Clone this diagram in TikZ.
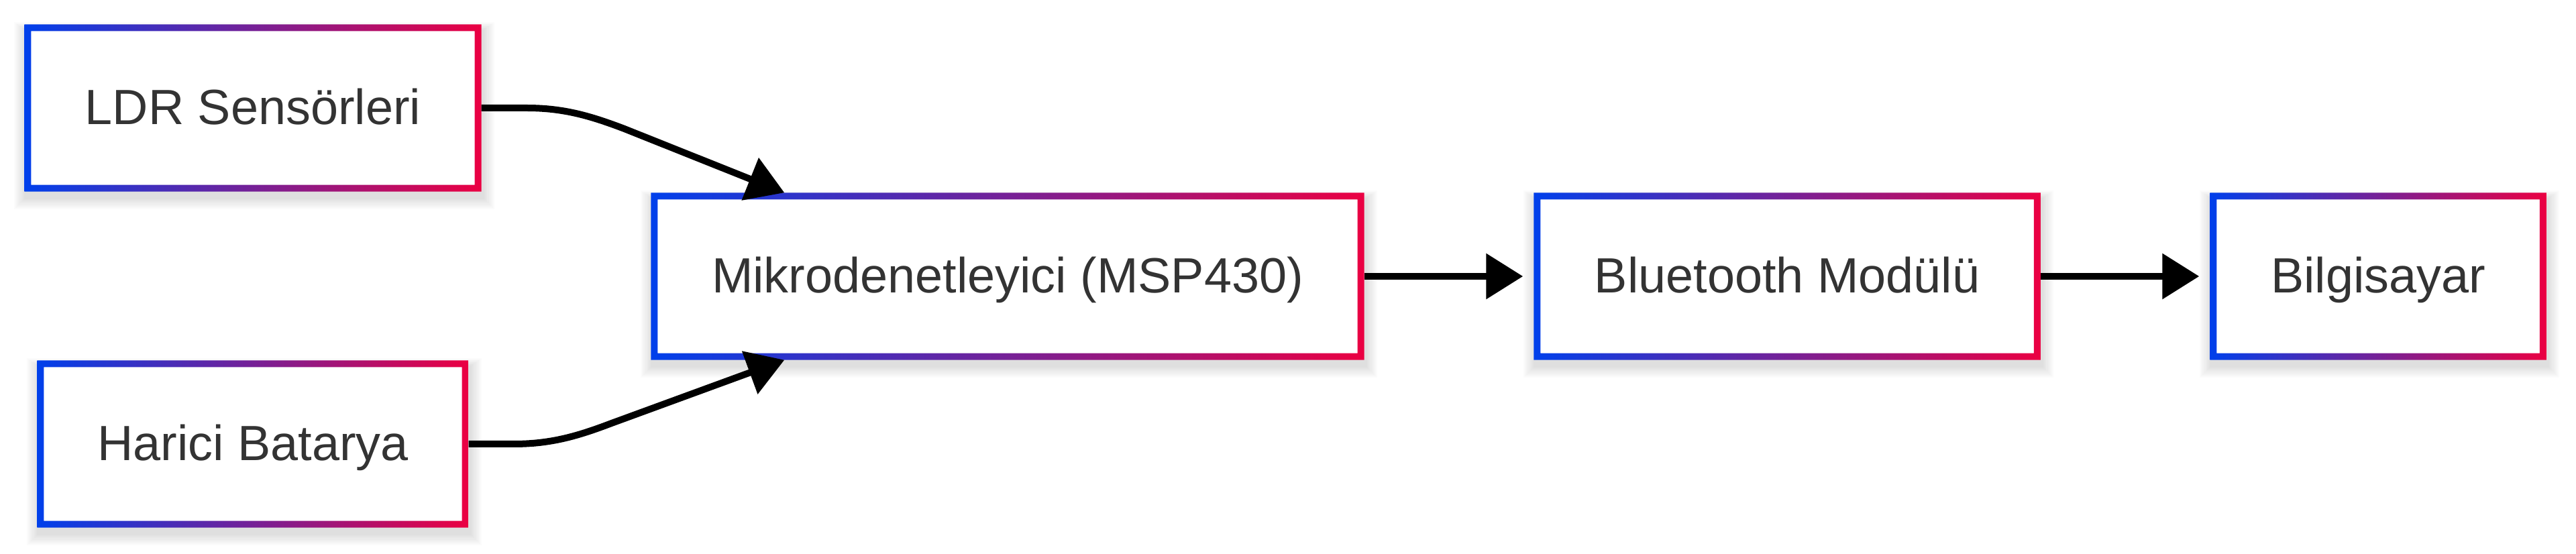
\documentclass[tikz,border=0pt]{standalone}
\usepackage{fontspec}
\setmainfont{Liberation Sans}
\usetikzlibrary{arrows.meta,calc,backgrounds}
\definecolor{cblue}{RGB}{0,64,235}
\definecolor{cred}{RGB}{235,0,66}
\definecolor{ctext}{RGB}{51,51,51}
\tikzset{
  box/.style={rectangle, fill=white, draw=none, minimum height=2.48cm, inner sep=0pt,
    text height=0.6cm, text depth=0.11cm,
    text=ctext, font=\fontsize{21pt}{24pt}\selectfont},
  arr/.style={line width=0.1cm, black, -{Triangle[length=0.55cm,width=0.66cm]}},
  gborder/.style={even odd rule, left color=cblue, right color=cred},
  shad/.style={fill=black, fill opacity=0.014, draw=none}
}
\begin{document}
\begin{tikzpicture}
\useasboundingbox (0,0) rectangle (38.4,8.26);
\node[box, minimum width=6.80cm] (ldr) at (3.77,6.65) {LDR Sensörleri};
\node[box, minimum width=6.42cm] (har) at (3.77,1.64) {Harici Batarya};
\node[box, minimum width=10.62cm] (mcu) at (15.02,4.14) {Mikrodenetleyici (MSP430)};
\node[box, minimum width=7.54cm] (bt) at (26.64,4.14) {Bluetooth Modülü};
\node[box, minimum width=5.00cm] (pc) at (35.45,4.14) {Bilgisayar};
\begin{scope}[on background layer]
\foreach \n in {ldr,har,mcu,bt,pc}{
  \foreach \k in {1,...,8}{
    \fill[shad] ($(\n.south west)+(0.02-\k*0.022,-0.09-\k*0.022)$) rectangle ($(\n.north east)+(0.02+\k*0.022,-0.09+\k*0.015)$);
  }
}
\end{scope}
\foreach \n in {ldr,har,mcu,bt,pc}{
  \shade[gborder] (\n.south west) rectangle (\n.north east)
    ($(\n.south west)+(0.1,0.1)$) rectangle ($(\n.north east)+(-0.1,-0.1)$);
}
% connectors
\coordinate (t1) at ($(mcu.north west)+(1.99,0)$);
\coordinate (t2) at ($(mcu.south west)+(1.99,0)$);
\coordinate (a1) at ($(ldr.east)+(0.67,0)$);
\coordinate (c1) at ($(ldr.east)+(1.23,0)$);
\coordinate (d1) at ($(ldr.east)+(1.63,-0.12)$);
\coordinate (b1) at ($(ldr.east)+(2.13,-0.31)$);
\coordinate (a2) at ($(har.east)+(0.67,0)$);
\coordinate (c2) at ($(har.east)+(1.23,0)$);
\coordinate (d2) at ($(har.east)+(1.63,0.12)$);
\coordinate (b2) at ($(har.east)+(2.13,0.31)$);
\draw[arr] (ldr.east) -- (a1) .. controls (c1) and (d1) .. (b1) -- (t1);
\draw[arr] (har.east) -- (a2) .. controls (c2) and (d2) .. (b2) -- (t2);
\draw[arr, shorten >=0.16cm] (mcu.east) -- (bt.west);
\draw[arr, shorten >=0.16cm] (bt.east) -- (pc.west);
\end{tikzpicture}
\end{document}
